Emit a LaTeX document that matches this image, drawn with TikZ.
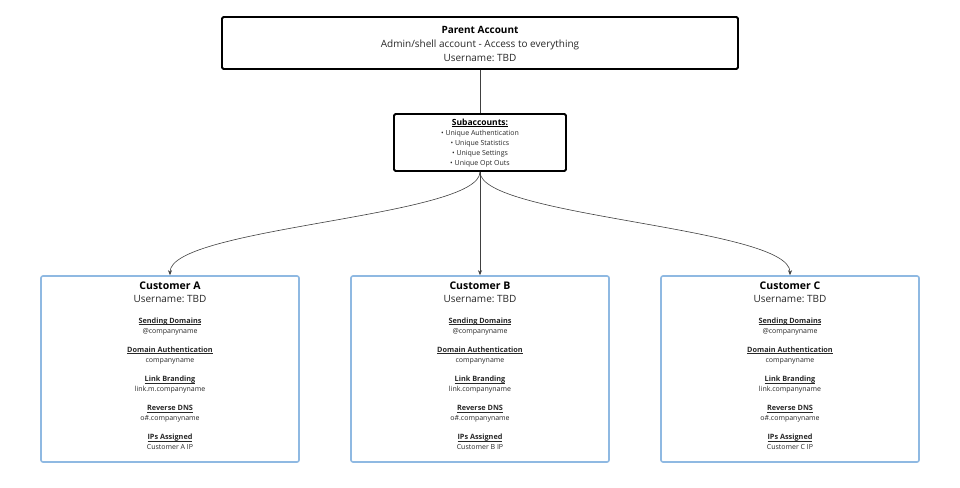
\documentclass[tikz,border=0pt]{standalone}
\usepackage{fontspec}
\setmainfont{Open Sans}
\usetikzlibrary{arrows.meta}
\definecolor{custblue}{RGB}{143,185,226}
\definecolor{txt}{RGB}{40,40,40}
\newcommand\hdul[1]{\setbox0\hbox{#1}\rlap{\rule[-1.6pt]{\wd0}{0.55pt}}\box0}
\frenchspacing
\begin{document}
\begin{tikzpicture}[x=1pt,y=-1pt,
  darkbox/.style={draw=black,line width=1.8pt,rounded corners=1.5pt,fill=white,inner sep=0pt},
  custbox/.style={draw=custblue,line width=1.6pt,rounded corners=2pt,fill=white,inner sep=0pt,minimum width=258pt,minimum height=186pt},
  conn/.style={draw=black!75,line width=0.6pt},
  arr/.style={conn,-{Stealth[length=5pt,width=4pt]}},
  tbig/.style={font=\fontsize{10}{12}\selectfont,text=txt,inner sep=0pt,anchor=base},
  tbigb/.style={font=\fontsize{10}{12}\selectfont\bfseries,text=black,inner sep=0pt,anchor=base},
  ctitle/.style={font=\fontsize{10.5}{12}\selectfont\bfseries,text=black,inner sep=0pt,anchor=base},
  stitle/.style={font=\fontsize{8.5}{10}\selectfont\bfseries,text=black,inner sep=0pt,anchor=base},
  sitem/.style={font=\fontsize{7}{9}\selectfont,text=txt,inner sep=0pt,anchor=base},
  hd/.style={font=\fontsize{7.3}{9}\selectfont\bfseries,text=txt,inner sep=0pt,anchor=base},
  val/.style={font=\fontsize{7}{9}\selectfont,text=txt,inner sep=0pt,anchor=base}
]
\useasboundingbox (0,0) rectangle (960,487);
\fill[white] (0,0) rectangle (960,487);

% parent
\node[darkbox,minimum width=516pt,minimum height=52pt] (parent) at (480,43) {};
\node[tbigb] (p1) at (480,33.3) {Parent Account};
\node[tbig] (p2) at (480,47.3) {Admin/shell account - Access to everything};
\node[tbig] (p3) at (480,61.3) {Username: TBD};

% subaccounts
\node[darkbox,minimum width=172pt,minimum height=57pt] (sub) at (480,142.5) {};
\node[stitle] (s0) at (480,125.3) {\hdul{Subaccounts:}};
\node[sitem] (s1) at (480,135.8) {• Unique Authentication};
\node[sitem] (s2) at (480,145.8) {• Unique Statistics};
\node[sitem] (s3) at (480,155.8) {• Unique Settings};
\node[sitem] (s4) at (480,165.8) {• Unique Opt Outs};

\draw[conn] (parent.south) -- (sub.north);

% customers
\foreach \n/\cx/\lb in {A/170/link.m.companyname,B/480/link.companyname,C/790/link.companyname}{
  \node[custbox] (c\n) at (\cx,369) {};
  \node[ctitle] (c\n t) at (\cx,289.3) {Customer \n};
  \node[tbig] (c\n u) at (\cx,302.8) {Username: TBD};
  \node[hd] (c\n h1) at (\cx,323) {\hdul{Sending Domains}};
  \node[val] (c\n v1) at (\cx,333.8) {@companyname};
  \node[hd] (c\n h2) at (\cx,352.3) {\hdul{Domain Authentication}};
  \node[val] (c\n v2) at (\cx,362.8) {companyname};
  \node[hd] (c\n h3) at (\cx,381.5) {\hdul{Link Branding}};
  \node[val] (c\n v3) at (\cx,391.8) {\lb};
  \node[hd] (c\n h4) at (\cx,410.5) {\hdul{Reverse DNS}};
  \node[val] (c\n v4) at (\cx,420.8) {o\#.companyname};
  \node[hd] (c\n h5) at (\cx,439.5) {\hdul{IPs Assigned}};
  \node[val] (c\n v5) at (\cx,449.8) {Customer \n\ IP};
}

\draw[arr] (sub.south) .. controls +(0,45) and +(0,-48) .. (cA.north);
\draw[arr] (sub.south) -- (cB.north);
\draw[arr] (sub.south) .. controls +(0,45) and +(0,-48) .. (cC.north);
\end{tikzpicture}
\end{document}
